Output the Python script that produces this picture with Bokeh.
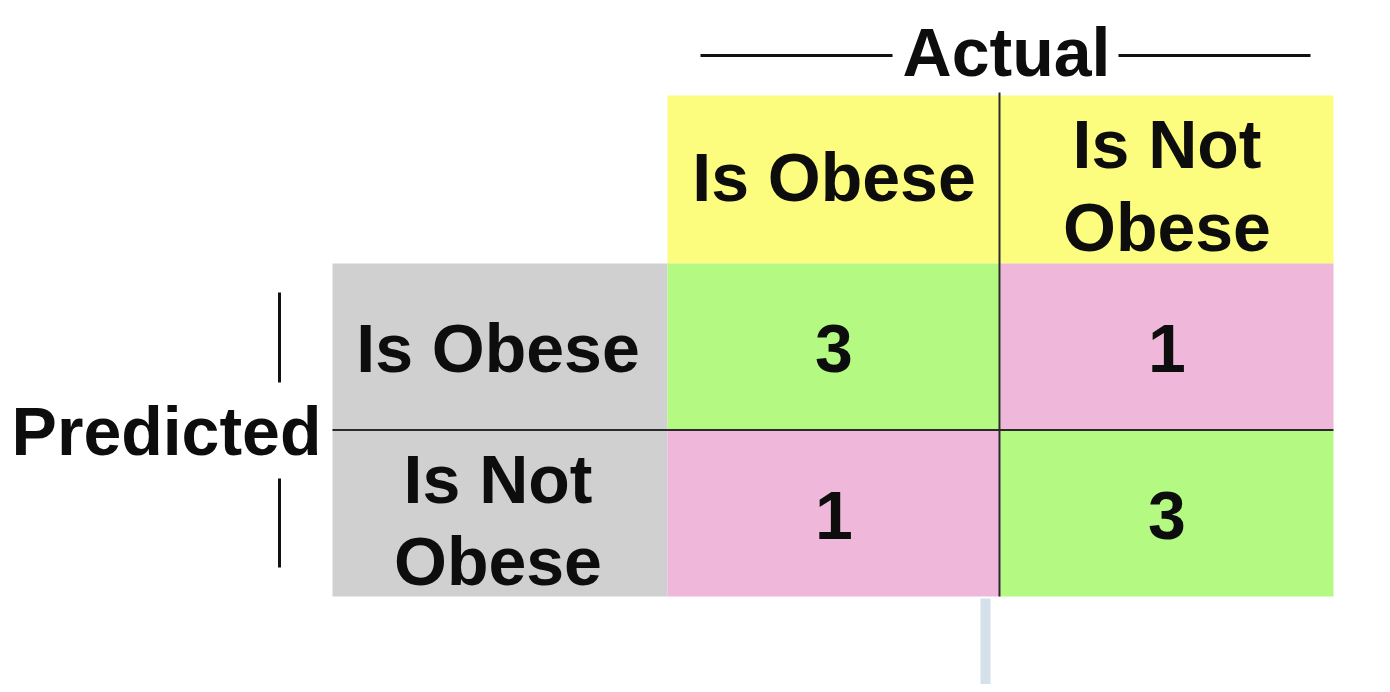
from bokeh.plotting import figure
from bokeh.models import Range1d, ColumnDataSource
from bokeh.core.properties import value
from bokeh.embed import file_html
from bokeh.resources import INLINE

# ---- data ----
actual_labels = ["Is Obese", "Is Not\nObese"]
predicted_labels = ["Is Obese", "Is Not\nObese"]
counts = [[3, 1],
          [1, 3]]
col_title = "Actual"
row_title = "Predicted"

# ---- style / layout ----
YELLOW = "#fcfc7f"
GREEN = "#b4f982"
PINK = "#efb7d9"
GRAY = "#d0d0d0"
INK = "#0d0d0d"
FONT = value("Liberation Sans")
FS = "68px"

W, H = 1382, 684
TX0, CW = 667, 333          # matrix left edge, column width
HY0, HH = 95, 168           # header top, header height
RY0, RH = 263, 166.5        # body top, row height
LX0, LW = 332, 335          # row-label column

p = figure(width=W, height=H, x_range=Range1d(0, W), y_range=Range1d(H, 0),
           output_backend="svg", toolbar_location=None, min_border=0,
           x_axis_location=None, y_axis_location=None)
p.grid.visible = False
p.outline_line_color = None
p.background_fill_color = "white"
p.border_fill_color = "white"

n_cols = len(actual_labels)
n_rows = len(predicted_labels)

# header cells
hx = [TX0 + CW * (j + 0.5) for j in range(n_cols)]
p.rect(x=hx, y=[HY0 + HH / 2] * n_cols, width=CW, height=HH,
       fill_color=YELLOW, line_color=None)
# row label cells
ry = [RY0 + RH * (i + 0.5) for i in range(n_rows)]
p.rect(x=[LX0 + LW / 2] * n_rows, y=ry, width=LW, height=RH,
       fill_color=GRAY, line_color=None)

# body cells
cx, cy, ccol, ctxt = [], [], [], []
for i in range(n_rows):
    for j in range(n_cols):
        cx.append(TX0 + CW * (j + 0.5))
        cy.append(RY0 + RH * (i + 0.5))
        ccol.append(GREEN if i == j else PINK)
        ctxt.append(str(counts[i][j]))
src = ColumnDataSource(dict(x=cx, y=cy, ty=[v + 2 for v in cy], c=ccol, t=ctxt))
p.rect(x="x", y="y", width=CW, height=RH, fill_color="c", line_color=None, source=src)

# divider lines
right_edge = TX0 + CW * n_cols
bottom_edge = RY0 + RH * n_rows
p.segment(x0=[TX0 + CW - 1], y0=[HY0 - 3], x1=[TX0 + CW - 1], y1=[bottom_edge],
          line_color="#2a2a2a", line_width=2)
p.segment(x0=[LX0], y0=[RY0 + RH], x1=[right_edge], y1=[RY0 + RH],
          line_color="#2a2a2a", line_width=2)

# light-blue strip below
p.quad(left=[980], right=[990], top=[bottom_edge + 2], bottom=[H + 10],
       fill_color="#d4e0ea", line_color=None)

txt_kw = dict(text_align="center", text_baseline="middle", text_font=FONT,
              text_font_style="bold", text_font_size=FS, text_color=INK,
              text_line_height=1.08)

# numbers
p.text(x="x", y="ty", text="t", source=src, **txt_kw)
# header labels
p.text(x=hx, y=[HY0 + HH / 2 - 3, HY0 + HH / 2 + 6], text=actual_labels, **txt_kw)
# row labels
p.text(x=[LX0 + LW / 2 - 2] * n_rows, y=[ry[0] + 1, ry[1] + 7], text=predicted_labels, **txt_kw)

# axis titles
ax_cx = (TX0 + right_edge) / 2 + 6
p.text(x=[ax_cx], y=[51], text=[col_title], **txt_kw)
p.segment(x0=[700, 1118], y0=[55, 55], x1=[892, 1310], y1=[55, 55],
          line_color="#111111", line_width=3)

p.text(x=[166], y=[430], text=[row_title], **txt_kw)
p.segment(x0=[279, 279], y0=[292, 478], x1=[279, 279], y1=[382, 567],
          line_color="#111111", line_width=3)

open("out.html", "w").write(file_html(p, INLINE))
